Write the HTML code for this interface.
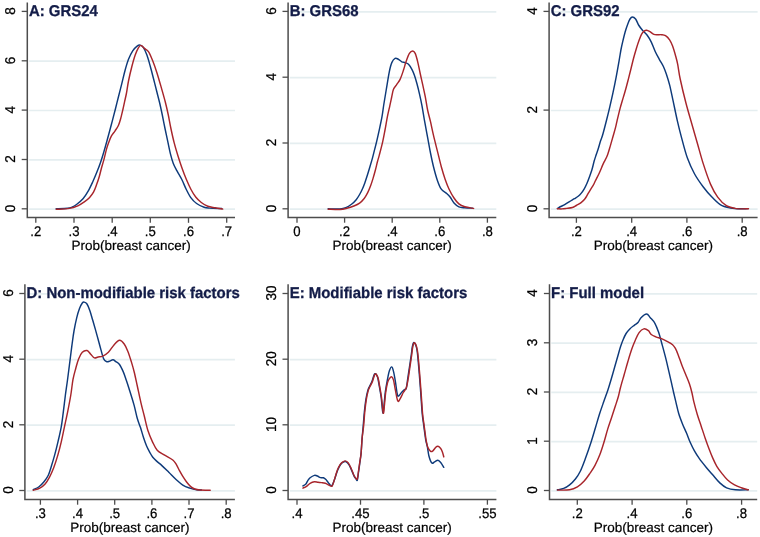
<!DOCTYPE html>
<html><head><meta charset="utf-8"><style>
html,body{margin:0;padding:0;background:#fff;width:760px;height:537px;overflow:hidden}
svg{display:block;will-change:transform}
text{font-family:"Liberation Sans", sans-serif;text-rendering:geometricPrecision}
</style></head><body>
<svg width="760" height="537" viewBox="0 0 760 537">
<rect width="760" height="537" fill="#fff"/>
<line x1="29.1" y1="209.2" x2="235.0" y2="209.2" stroke="#e5eef0" stroke-width="1.7"/>
<line x1="29.1" y1="159.9" x2="235.0" y2="159.9" stroke="#e5eef0" stroke-width="1.7"/>
<line x1="29.1" y1="110.5" x2="235.0" y2="110.5" stroke="#e5eef0" stroke-width="1.7"/>
<line x1="29.1" y1="61.1" x2="235.0" y2="61.1" stroke="#e5eef0" stroke-width="1.7"/>
<text transform="translate(28.9,16.0) scale(0.958,1)" font-size="15.6" font-weight="bold" fill="#131c48" stroke="#131c48" stroke-width="0.3">A: GRS24</text>
<path d="M56.20,208.80 C58.12,208.72 65.07,208.57 67.70,208.30 C70.33,208.03 70.53,207.83 72.00,207.20 C73.47,206.57 74.67,205.92 76.50,204.50 C78.33,203.08 81.03,200.98 83.00,198.70 C84.97,196.42 86.67,193.63 88.30,190.80 C89.93,187.97 91.40,184.73 92.80,181.70 C94.20,178.67 95.40,175.85 96.70,172.60 C98.00,169.35 99.40,165.68 100.60,162.20 C101.80,158.72 102.80,155.40 103.90,151.70 C105.00,148.00 105.93,144.62 107.20,140.00 C108.47,135.38 110.13,129.17 111.50,124.00 C112.87,118.83 114.25,113.50 115.40,109.00 C116.55,104.50 117.33,101.23 118.40,97.00 C119.47,92.77 120.68,88.07 121.80,83.60 C122.92,79.13 123.98,74.25 125.10,70.20 C126.22,66.15 127.23,62.52 128.50,59.30 C129.77,56.08 131.32,53.05 132.70,50.90 C134.08,48.75 135.55,47.37 136.80,46.40 C138.05,45.43 139.08,44.90 140.20,45.10 C141.32,45.30 142.38,45.93 143.50,47.60 C144.62,49.27 145.78,52.03 146.90,55.10 C148.02,58.17 149.08,62.02 150.20,66.00 C151.32,69.98 152.48,74.67 153.60,79.00 C154.72,83.33 155.87,87.92 156.90,92.00 C157.93,96.08 158.90,99.67 159.80,103.50 C160.70,107.33 161.45,110.92 162.30,115.00 C163.15,119.08 164.00,123.65 164.90,128.00 C165.80,132.35 166.77,136.75 167.70,141.10 C168.63,145.45 169.57,150.38 170.50,154.10 C171.43,157.82 172.22,160.60 173.30,163.40 C174.38,166.20 175.60,168.25 177.00,170.90 C178.40,173.55 180.15,176.20 181.70,179.30 C183.25,182.40 184.75,186.40 186.30,189.50 C187.85,192.60 189.28,195.57 191.00,197.90 C192.72,200.23 194.42,201.95 196.60,203.50 C198.78,205.05 201.93,206.43 204.10,207.20 C206.27,207.97 206.65,207.88 209.60,208.10 C212.55,208.32 219.77,208.43 221.80,208.50" fill="none" stroke="#0e3a7a" stroke-width="1.45" stroke-linejoin="round" stroke-linecap="round"/>
<path d="M56.20,209.30 C58.40,209.15 65.80,208.98 69.40,208.40 C73.00,207.82 75.32,206.88 77.80,205.80 C80.28,204.72 82.33,203.30 84.30,201.90 C86.27,200.50 88.07,199.02 89.60,197.40 C91.13,195.78 92.32,194.38 93.50,192.20 C94.68,190.02 95.73,186.92 96.70,184.30 C97.67,181.68 98.53,179.10 99.30,176.50 C100.07,173.90 100.53,171.52 101.30,168.70 C102.07,165.88 103.03,162.87 103.90,159.60 C104.77,156.33 105.70,151.95 106.50,149.10 C107.30,146.25 107.92,144.63 108.70,142.50 C109.48,140.37 110.13,138.25 111.20,136.30 C112.27,134.35 113.88,132.65 115.10,130.80 C116.32,128.95 117.57,127.25 118.50,125.20 C119.43,123.15 119.97,121.12 120.70,118.50 C121.43,115.88 122.25,112.30 122.90,109.50 C123.55,106.70 124.00,104.45 124.60,101.70 C125.20,98.95 125.85,96.45 126.50,93.00 C127.15,89.55 127.62,85.37 128.50,81.00 C129.38,76.63 130.68,71.12 131.80,66.80 C132.92,62.48 134.08,58.30 135.20,55.10 C136.32,51.90 137.53,49.22 138.50,47.60 C139.47,45.98 140.02,45.27 141.00,45.40 C141.98,45.53 143.13,47.33 144.40,48.40 C145.67,49.47 147.20,49.70 148.60,51.80 C150.00,53.90 151.42,57.52 152.80,61.00 C154.18,64.48 155.52,68.38 156.90,72.70 C158.28,77.02 159.70,82.02 161.10,86.90 C162.50,91.78 164.10,97.32 165.30,102.00 C166.50,106.68 167.38,110.67 168.30,115.00 C169.22,119.33 169.82,123.35 170.80,128.00 C171.78,132.65 173.00,138.23 174.20,142.90 C175.40,147.57 176.75,151.95 178.00,156.00 C179.25,160.05 180.32,163.32 181.70,167.20 C183.08,171.08 184.75,175.58 186.30,179.30 C187.85,183.02 189.43,186.55 191.00,189.50 C192.57,192.45 193.98,194.83 195.70,197.00 C197.42,199.17 199.28,200.95 201.30,202.50 C203.32,204.05 205.48,205.42 207.80,206.30 C210.12,207.18 212.72,207.33 215.20,207.80 C217.68,208.27 221.45,208.88 222.70,209.10" fill="none" stroke="#a8252b" stroke-width="1.45" stroke-linejoin="round" stroke-linecap="round"/>
<path d="M27.3,2.6 V217.5 H235.0" fill="none" stroke="#4d4d4d" stroke-width="1.5"/>
<line x1="21.7" y1="208.8" x2="27.3" y2="208.8" stroke="#4d4d4d" stroke-width="1.3"/>
<text transform="translate(15.1,208.4) rotate(-90) scale(0.95,1)" text-anchor="middle" font-size="14.2" fill="#000" stroke="#000" stroke-width="0.25">0</text>
<line x1="21.7" y1="159.5" x2="27.3" y2="159.5" stroke="#4d4d4d" stroke-width="1.3"/>
<text transform="translate(15.1,159.1) rotate(-90) scale(0.95,1)" text-anchor="middle" font-size="14.2" fill="#000" stroke="#000" stroke-width="0.25">2</text>
<line x1="21.7" y1="110.1" x2="27.3" y2="110.1" stroke="#4d4d4d" stroke-width="1.3"/>
<text transform="translate(15.1,109.7) rotate(-90) scale(0.95,1)" text-anchor="middle" font-size="14.2" fill="#000" stroke="#000" stroke-width="0.25">4</text>
<line x1="21.7" y1="60.8" x2="27.3" y2="60.8" stroke="#4d4d4d" stroke-width="1.3"/>
<text transform="translate(15.1,60.4) rotate(-90) scale(0.95,1)" text-anchor="middle" font-size="14.2" fill="#000" stroke="#000" stroke-width="0.25">6</text>
<line x1="21.7" y1="11.4" x2="27.3" y2="11.4" stroke="#4d4d4d" stroke-width="1.3"/>
<text transform="translate(15.1,11.0) rotate(-90) scale(0.95,1)" text-anchor="middle" font-size="14.2" fill="#000" stroke="#000" stroke-width="0.25">8</text>
<line x1="35.8" y1="217.5" x2="35.8" y2="222.8" stroke="#4d4d4d" stroke-width="1.3"/>
<text transform="translate(35.8,236.0) scale(0.94,1)" text-anchor="middle" font-size="14" fill="#000" stroke="#000" stroke-width="0.25">.2</text>
<line x1="74.0" y1="217.5" x2="74.0" y2="222.8" stroke="#4d4d4d" stroke-width="1.3"/>
<text transform="translate(74.0,236.0) scale(0.94,1)" text-anchor="middle" font-size="14" fill="#000" stroke="#000" stroke-width="0.25">.3</text>
<line x1="112.2" y1="217.5" x2="112.2" y2="222.8" stroke="#4d4d4d" stroke-width="1.3"/>
<text transform="translate(112.2,236.0) scale(0.94,1)" text-anchor="middle" font-size="14" fill="#000" stroke="#000" stroke-width="0.25">.4</text>
<line x1="150.3" y1="217.5" x2="150.3" y2="222.8" stroke="#4d4d4d" stroke-width="1.3"/>
<text transform="translate(150.3,236.0) scale(0.94,1)" text-anchor="middle" font-size="14" fill="#000" stroke="#000" stroke-width="0.25">.5</text>
<line x1="188.5" y1="217.5" x2="188.5" y2="222.8" stroke="#4d4d4d" stroke-width="1.3"/>
<text transform="translate(188.5,236.0) scale(0.94,1)" text-anchor="middle" font-size="14" fill="#000" stroke="#000" stroke-width="0.25">.6</text>
<line x1="226.7" y1="217.5" x2="226.7" y2="222.8" stroke="#4d4d4d" stroke-width="1.3"/>
<text transform="translate(226.7,236.0) scale(0.94,1)" text-anchor="middle" font-size="14" fill="#000" stroke="#000" stroke-width="0.25">.7</text>
<text x="131.2" y="249.6" text-anchor="middle" font-size="13.5" fill="#000" stroke="#000" stroke-width="0.2">Prob(breast cancer)</text>
<line x1="289.9" y1="209.2" x2="496.3" y2="209.2" stroke="#e5eef0" stroke-width="1.7"/>
<line x1="289.9" y1="143.4" x2="496.3" y2="143.4" stroke="#e5eef0" stroke-width="1.7"/>
<line x1="289.9" y1="77.6" x2="496.3" y2="77.6" stroke="#e5eef0" stroke-width="1.7"/>
<line x1="289.9" y1="11.8" x2="496.3" y2="11.8" stroke="#e5eef0" stroke-width="1.7"/>
<text transform="translate(289.7,16.0) scale(0.958,1)" font-size="15.6" font-weight="bold" fill="#131c48" stroke="#131c48" stroke-width="0.3">B: GRS68</text>
<path d="M328.20,208.80 C330.17,208.82 337.07,209.08 340.00,208.90 C342.93,208.72 343.88,208.47 345.80,207.70 C347.72,206.93 349.77,205.63 351.50,204.30 C353.23,202.97 354.85,201.33 356.20,199.70 C357.55,198.07 358.55,196.33 359.60,194.50 C360.65,192.67 361.63,190.63 362.50,188.70 C363.37,186.77 364.03,185.02 364.80,182.90 C365.57,180.78 366.33,178.40 367.10,176.00 C367.87,173.60 368.62,171.10 369.40,168.50 C370.18,165.90 371.17,162.63 371.80,160.40 C372.43,158.17 372.42,158.15 373.20,155.10 C373.98,152.05 375.45,146.48 376.50,142.10 C377.55,137.72 378.58,133.03 379.50,128.80 C380.42,124.57 381.28,120.75 382.00,116.70 C382.72,112.65 383.10,108.95 383.80,104.50 C384.50,100.05 385.28,95.45 386.20,90.00 C387.12,84.55 388.37,76.37 389.30,71.80 C390.23,67.23 390.83,64.83 391.80,62.60 C392.77,60.37 393.98,58.95 395.10,58.40 C396.22,57.85 397.38,58.73 398.50,59.30 C399.62,59.87 400.68,61.25 401.80,61.80 C402.92,62.35 404.08,62.18 405.20,62.60 C406.32,63.02 407.38,63.18 408.50,64.30 C409.62,65.42 410.92,67.48 411.90,69.30 C412.88,71.12 413.57,72.83 414.40,75.20 C415.23,77.57 416.07,80.43 416.90,83.50 C417.73,86.57 418.57,89.97 419.40,93.60 C420.23,97.23 421.02,100.62 421.90,105.30 C422.78,109.98 423.75,116.35 424.70,121.70 C425.65,127.05 426.63,132.18 427.60,137.40 C428.57,142.62 429.52,148.12 430.50,153.00 C431.48,157.88 432.35,162.13 433.50,166.70 C434.65,171.27 436.10,176.65 437.40,180.40 C438.70,184.15 439.83,187.08 441.30,189.20 C442.77,191.32 444.73,191.80 446.20,193.10 C447.67,194.40 448.80,195.37 450.10,197.00 C451.40,198.63 452.53,201.27 454.00,202.90 C455.47,204.53 457.10,205.98 458.90,206.80 C460.70,207.62 462.52,207.57 464.80,207.80 C467.08,208.03 471.30,208.13 472.60,208.20" fill="none" stroke="#0e3a7a" stroke-width="1.45" stroke-linejoin="round" stroke-linecap="round"/>
<path d="M328.20,209.20 C330.17,209.25 336.88,209.65 340.00,209.50 C343.12,209.35 344.58,208.88 346.90,208.30 C349.22,207.72 351.78,206.87 353.90,206.00 C356.02,205.13 357.88,204.35 359.60,203.10 C361.32,201.85 362.85,200.23 364.20,198.50 C365.55,196.77 366.63,194.82 367.70,192.70 C368.77,190.58 369.73,188.10 370.60,185.80 C371.47,183.50 372.13,181.40 372.90,178.90 C373.67,176.40 374.43,173.70 375.20,170.80 C375.97,167.90 376.82,164.12 377.50,161.50 C378.18,158.88 378.45,158.33 379.30,155.10 C380.15,151.87 381.65,146.28 382.60,142.10 C383.55,137.92 384.20,134.23 385.00,130.00 C385.80,125.77 386.60,120.73 387.40,116.70 C388.20,112.67 389.10,109.00 389.80,105.80 C390.50,102.60 391.00,100.22 391.60,97.50 C392.20,94.78 392.53,91.68 393.40,89.50 C394.27,87.32 395.68,86.08 396.80,84.40 C397.92,82.72 398.98,81.78 400.10,79.40 C401.22,77.02 402.52,73.03 403.50,70.10 C404.48,67.17 405.02,64.58 406.00,61.80 C406.98,59.02 408.28,55.22 409.40,53.40 C410.52,51.58 411.73,50.90 412.70,50.90 C413.67,50.90 414.37,51.58 415.20,53.40 C416.03,55.22 416.87,58.45 417.70,61.80 C418.53,65.15 419.35,69.60 420.20,73.50 C421.05,77.40 421.95,81.30 422.80,85.20 C423.65,89.10 424.50,92.77 425.30,96.90 C426.10,101.03 426.73,105.87 427.60,110.00 C428.47,114.13 429.52,117.47 430.50,121.70 C431.48,125.93 432.35,130.50 433.50,135.40 C434.65,140.30 436.10,145.88 437.40,151.10 C438.70,156.32 440.00,161.98 441.30,166.70 C442.60,171.42 443.90,175.65 445.20,179.40 C446.50,183.15 447.63,186.10 449.10,189.20 C450.57,192.30 452.37,195.55 454.00,198.00 C455.63,200.45 457.10,202.43 458.90,203.90 C460.70,205.37 462.35,206.05 464.80,206.80 C467.25,207.55 472.13,208.13 473.60,208.40" fill="none" stroke="#a8252b" stroke-width="1.45" stroke-linejoin="round" stroke-linecap="round"/>
<path d="M288.1,2.6 V217.4 H496.3" fill="none" stroke="#4d4d4d" stroke-width="1.5"/>
<line x1="282.5" y1="208.8" x2="288.1" y2="208.8" stroke="#4d4d4d" stroke-width="1.3"/>
<text transform="translate(275.9,208.4) rotate(-90) scale(0.95,1)" text-anchor="middle" font-size="14.2" fill="#000" stroke="#000" stroke-width="0.25">0</text>
<line x1="282.5" y1="143.0" x2="288.1" y2="143.0" stroke="#4d4d4d" stroke-width="1.3"/>
<text transform="translate(275.9,142.6) rotate(-90) scale(0.95,1)" text-anchor="middle" font-size="14.2" fill="#000" stroke="#000" stroke-width="0.25">2</text>
<line x1="282.5" y1="77.2" x2="288.1" y2="77.2" stroke="#4d4d4d" stroke-width="1.3"/>
<text transform="translate(275.9,76.8) rotate(-90) scale(0.95,1)" text-anchor="middle" font-size="14.2" fill="#000" stroke="#000" stroke-width="0.25">4</text>
<line x1="282.5" y1="11.4" x2="288.1" y2="11.4" stroke="#4d4d4d" stroke-width="1.3"/>
<text transform="translate(275.9,11.0) rotate(-90) scale(0.95,1)" text-anchor="middle" font-size="14.2" fill="#000" stroke="#000" stroke-width="0.25">6</text>
<line x1="297.0" y1="217.4" x2="297.0" y2="222.7" stroke="#4d4d4d" stroke-width="1.3"/>
<text transform="translate(297.0,235.9) scale(0.94,1)" text-anchor="middle" font-size="14" fill="#000" stroke="#000" stroke-width="0.25">0</text>
<line x1="344.6" y1="217.4" x2="344.6" y2="222.7" stroke="#4d4d4d" stroke-width="1.3"/>
<text transform="translate(344.6,235.9) scale(0.94,1)" text-anchor="middle" font-size="14" fill="#000" stroke="#000" stroke-width="0.25">.2</text>
<line x1="392.2" y1="217.4" x2="392.2" y2="222.7" stroke="#4d4d4d" stroke-width="1.3"/>
<text transform="translate(392.2,235.9) scale(0.94,1)" text-anchor="middle" font-size="14" fill="#000" stroke="#000" stroke-width="0.25">.4</text>
<line x1="439.8" y1="217.4" x2="439.8" y2="222.7" stroke="#4d4d4d" stroke-width="1.3"/>
<text transform="translate(439.8,235.9) scale(0.94,1)" text-anchor="middle" font-size="14" fill="#000" stroke="#000" stroke-width="0.25">.6</text>
<line x1="487.4" y1="217.4" x2="487.4" y2="222.7" stroke="#4d4d4d" stroke-width="1.3"/>
<text transform="translate(487.4,235.9) scale(0.94,1)" text-anchor="middle" font-size="14" fill="#000" stroke="#000" stroke-width="0.25">.8</text>
<text x="392.2" y="249.5" text-anchor="middle" font-size="13.5" fill="#000" stroke="#000" stroke-width="0.2">Prob(breast cancer)</text>
<line x1="550.9" y1="209.2" x2="757.6" y2="209.2" stroke="#e5eef0" stroke-width="1.7"/>
<line x1="550.9" y1="110.5" x2="757.6" y2="110.5" stroke="#e5eef0" stroke-width="1.7"/>
<line x1="550.9" y1="11.8" x2="757.6" y2="11.8" stroke="#e5eef0" stroke-width="1.7"/>
<text transform="translate(550.7,16.0) scale(0.958,1)" font-size="15.6" font-weight="bold" fill="#131c48" stroke="#131c48" stroke-width="0.3">C: GRS92</text>
<path d="M557.40,208.50 C557.97,208.17 559.58,207.15 560.80,206.50 C562.02,205.85 563.25,205.42 564.70,204.60 C566.15,203.78 567.88,202.58 569.50,201.60 C571.12,200.62 572.95,199.58 574.40,198.70 C575.85,197.82 577.08,197.18 578.20,196.30 C579.32,195.42 580.12,194.60 581.10,193.40 C582.08,192.20 583.12,190.80 584.10,189.10 C585.08,187.40 586.08,185.30 587.00,183.20 C587.92,181.10 588.77,178.78 589.60,176.50 C590.43,174.22 591.25,172.03 592.00,169.50 C592.75,166.97 593.43,163.67 594.10,161.30 C594.77,158.93 595.35,157.27 596.00,155.30 C596.65,153.33 597.25,151.88 598.00,149.50 C598.75,147.12 599.72,143.45 600.50,141.00 C601.28,138.55 601.67,138.38 602.70,134.80 C603.73,131.22 605.52,124.17 606.70,119.50 C607.88,114.83 608.75,111.28 609.80,106.80 C610.85,102.32 611.93,97.60 613.00,92.60 C614.07,87.60 615.15,82.32 616.20,76.80 C617.25,71.28 618.52,63.97 619.30,59.50 C620.08,55.03 620.35,52.90 620.90,50.00 C621.45,47.10 621.88,45.15 622.60,42.10 C623.32,39.05 624.33,34.73 625.20,31.70 C626.07,28.67 627.00,26.02 627.80,23.90 C628.60,21.78 629.25,20.17 630.00,19.00 C630.75,17.83 631.37,16.90 632.30,16.90 C633.23,16.90 634.50,17.57 635.60,19.00 C636.70,20.43 637.70,23.57 638.90,25.50 C640.10,27.43 641.42,28.97 642.80,30.60 C644.18,32.23 645.78,33.38 647.20,35.30 C648.62,37.22 649.97,39.40 651.30,42.10 C652.63,44.80 653.87,48.63 655.20,51.50 C656.53,54.37 657.93,56.80 659.30,59.30 C660.67,61.80 662.20,63.95 663.40,66.50 C664.60,69.05 665.47,71.53 666.50,74.60 C667.53,77.67 668.52,80.60 669.60,84.90 C670.68,89.20 671.72,94.45 673.00,100.40 C674.28,106.35 675.87,114.35 677.30,120.60 C678.73,126.85 679.92,131.65 681.60,137.90 C683.28,144.15 685.23,152.08 687.40,158.10 C689.57,164.12 691.95,169.18 694.60,174.00 C697.25,178.82 700.42,183.15 703.30,187.00 C706.18,190.85 708.78,193.98 711.90,197.10 C715.02,200.22 718.15,203.78 722.00,205.70 C725.85,207.62 730.67,208.12 735.00,208.60 C739.33,209.08 745.83,208.60 748.00,208.60" fill="none" stroke="#0e3a7a" stroke-width="1.45" stroke-linejoin="round" stroke-linecap="round"/>
<path d="M557.40,208.70 C558.13,208.73 560.27,208.95 561.80,208.90 C563.33,208.85 564.83,208.63 566.60,208.40 C568.37,208.17 570.78,207.98 572.40,207.50 C574.02,207.02 574.85,206.32 576.30,205.50 C577.75,204.68 579.65,203.73 581.10,202.60 C582.55,201.47 583.87,200.15 585.00,198.70 C586.13,197.25 586.93,195.50 587.90,193.90 C588.87,192.30 589.90,190.55 590.80,189.10 C591.70,187.65 592.53,186.58 593.30,185.20 C594.07,183.82 594.40,182.83 595.40,180.80 C596.40,178.77 598.00,175.82 599.30,173.00 C600.60,170.18 601.90,166.72 603.20,163.90 C604.50,161.08 605.90,159.15 607.10,156.10 C608.30,153.05 609.42,148.87 610.40,145.60 C611.38,142.33 612.15,139.50 613.00,136.50 C613.85,133.50 614.83,130.17 615.50,127.60 C616.17,125.03 616.23,124.30 617.00,121.10 C617.77,117.90 619.05,112.35 620.10,108.40 C621.15,104.45 622.33,100.72 623.30,97.40 C624.27,94.08 625.03,91.63 625.90,88.50 C626.77,85.37 627.63,81.98 628.50,78.60 C629.37,75.22 630.23,71.67 631.10,68.20 C631.97,64.73 632.83,61.05 633.70,57.80 C634.57,54.55 635.43,51.53 636.30,48.70 C637.17,45.87 638.03,43.20 638.90,40.80 C639.77,38.40 640.63,35.92 641.50,34.30 C642.37,32.68 643.23,31.78 644.10,31.10 C644.97,30.42 645.72,30.10 646.70,30.20 C647.68,30.30 648.80,31.02 650.00,31.70 C651.20,32.38 652.65,33.80 653.90,34.30 C655.15,34.80 656.25,34.63 657.50,34.70 C658.75,34.77 660.07,34.53 661.40,34.70 C662.73,34.87 664.13,34.85 665.50,35.70 C666.87,36.55 668.42,38.08 669.60,39.80 C670.78,41.52 671.58,43.27 672.60,46.00 C673.62,48.73 674.85,53.13 675.70,56.20 C676.55,59.27 676.95,60.60 677.70,64.40 C678.45,68.20 678.82,72.52 680.20,79.00 C681.58,85.48 684.08,95.88 686.00,103.30 C687.92,110.72 689.78,116.77 691.70,123.50 C693.62,130.23 695.57,136.97 697.50,143.70 C699.43,150.43 701.13,157.17 703.30,163.90 C705.47,170.63 708.10,178.57 710.50,184.10 C712.90,189.63 715.05,193.50 717.70,197.10 C720.35,200.70 723.27,203.78 726.40,205.70 C729.53,207.62 732.82,208.08 736.50,208.60 C740.18,209.12 746.50,208.77 748.50,208.80" fill="none" stroke="#a8252b" stroke-width="1.45" stroke-linejoin="round" stroke-linecap="round"/>
<path d="M549.1,2.6 V217.5 H757.6" fill="none" stroke="#4d4d4d" stroke-width="1.5"/>
<line x1="543.5" y1="208.8" x2="549.1" y2="208.8" stroke="#4d4d4d" stroke-width="1.3"/>
<text transform="translate(536.9,208.4) rotate(-90) scale(0.95,1)" text-anchor="middle" font-size="14.2" fill="#000" stroke="#000" stroke-width="0.25">0</text>
<line x1="543.5" y1="110.1" x2="549.1" y2="110.1" stroke="#4d4d4d" stroke-width="1.3"/>
<text transform="translate(536.9,109.7) rotate(-90) scale(0.95,1)" text-anchor="middle" font-size="14.2" fill="#000" stroke="#000" stroke-width="0.25">2</text>
<line x1="543.5" y1="11.4" x2="549.1" y2="11.4" stroke="#4d4d4d" stroke-width="1.3"/>
<text transform="translate(536.9,11.0) rotate(-90) scale(0.95,1)" text-anchor="middle" font-size="14.2" fill="#000" stroke="#000" stroke-width="0.25">4</text>
<line x1="576.4" y1="217.5" x2="576.4" y2="222.8" stroke="#4d4d4d" stroke-width="1.3"/>
<text transform="translate(576.4,236.0) scale(0.94,1)" text-anchor="middle" font-size="14" fill="#000" stroke="#000" stroke-width="0.25">.2</text>
<line x1="631.7" y1="217.5" x2="631.7" y2="222.8" stroke="#4d4d4d" stroke-width="1.3"/>
<text transform="translate(631.7,236.0) scale(0.94,1)" text-anchor="middle" font-size="14" fill="#000" stroke="#000" stroke-width="0.25">.4</text>
<line x1="686.9" y1="217.5" x2="686.9" y2="222.8" stroke="#4d4d4d" stroke-width="1.3"/>
<text transform="translate(686.9,236.0) scale(0.94,1)" text-anchor="middle" font-size="14" fill="#000" stroke="#000" stroke-width="0.25">.6</text>
<line x1="742.2" y1="217.5" x2="742.2" y2="222.8" stroke="#4d4d4d" stroke-width="1.3"/>
<text transform="translate(742.2,236.0) scale(0.94,1)" text-anchor="middle" font-size="14" fill="#000" stroke="#000" stroke-width="0.25">.8</text>
<text x="653.4" y="249.6" text-anchor="middle" font-size="13.5" fill="#000" stroke="#000" stroke-width="0.2">Prob(breast cancer)</text>
<line x1="26.7" y1="490.9" x2="234.9" y2="490.9" stroke="#e5eef0" stroke-width="1.7"/>
<line x1="26.7" y1="425.2" x2="234.9" y2="425.2" stroke="#e5eef0" stroke-width="1.7"/>
<line x1="26.7" y1="359.6" x2="234.9" y2="359.6" stroke="#e5eef0" stroke-width="1.7"/>
<line x1="26.7" y1="293.9" x2="234.9" y2="293.9" stroke="#e5eef0" stroke-width="1.7"/>
<text transform="translate(26.5,297.6) scale(0.958,1)" font-size="15.6" font-weight="bold" fill="#131c48" stroke="#131c48" stroke-width="0.3">D: Non-modifiable risk factors</text>
<path d="M33.30,489.60 C34.20,489.17 36.92,488.32 38.70,487.00 C40.48,485.68 42.40,483.65 44.00,481.70 C45.60,479.75 47.05,477.97 48.30,475.30 C49.55,472.63 50.43,469.10 51.50,465.70 C52.57,462.30 53.63,458.83 54.70,454.90 C55.77,450.97 56.82,446.73 57.90,442.10 C58.98,437.47 60.30,432.10 61.20,427.10 C62.10,422.10 62.60,417.45 63.30,412.10 C64.00,406.75 64.70,400.35 65.40,395.00 C66.10,389.65 66.70,386.02 67.50,380.00 C68.30,373.98 69.43,364.90 70.20,358.90 C70.97,352.90 71.47,348.65 72.10,344.00 C72.73,339.35 73.23,335.35 74.00,331.00 C74.77,326.65 75.78,321.63 76.70,317.90 C77.62,314.17 78.57,311.08 79.50,308.60 C80.43,306.12 81.52,304.08 82.30,303.00 C83.08,301.92 83.42,301.93 84.20,302.10 C84.98,302.27 86.07,302.60 87.00,304.00 C87.93,305.40 88.87,307.87 89.80,310.50 C90.73,313.13 91.68,316.70 92.60,319.80 C93.52,322.90 94.38,325.85 95.30,329.10 C96.22,332.35 97.17,335.88 98.10,339.30 C99.03,342.72 99.97,346.33 100.90,349.60 C101.83,352.87 102.77,356.90 103.70,358.90 C104.63,360.90 105.57,361.20 106.50,361.60 C107.43,362.00 108.22,361.60 109.30,361.30 C110.38,361.00 111.92,359.75 113.00,359.80 C114.08,359.85 114.72,360.82 115.80,361.60 C116.88,362.38 118.25,362.78 119.50,364.50 C120.75,366.22 122.22,369.42 123.30,371.90 C124.38,374.38 125.05,376.63 126.00,379.40 C126.95,382.17 127.67,384.25 129.00,388.50 C130.33,392.75 132.60,399.85 134.00,404.90 C135.40,409.95 136.32,415.02 137.40,418.80 C138.48,422.58 139.48,424.48 140.50,427.60 C141.52,430.72 142.48,434.43 143.50,437.50 C144.52,440.57 145.55,443.53 146.60,446.00 C147.65,448.47 148.77,450.42 149.80,452.30 C150.83,454.18 151.62,455.78 152.80,457.30 C153.98,458.82 155.38,460.02 156.90,461.40 C158.42,462.78 159.92,463.78 161.90,465.60 C163.88,467.42 166.48,470.02 168.80,472.30 C171.12,474.58 173.47,477.17 175.80,479.30 C178.13,481.43 180.47,483.63 182.80,485.10 C185.13,486.57 187.48,487.32 189.80,488.10 C192.12,488.88 194.77,489.48 196.70,489.80 C198.63,490.12 200.62,489.97 201.40,490.00" fill="none" stroke="#0e3a7a" stroke-width="1.45" stroke-linejoin="round" stroke-linecap="round"/>
<path d="M33.30,490.30 C34.38,489.93 37.83,489.17 39.80,488.10 C41.77,487.03 43.50,485.68 45.10,483.90 C46.70,482.12 47.97,480.08 49.40,477.40 C50.83,474.72 52.28,471.55 53.70,467.80 C55.12,464.05 56.65,459.18 57.90,454.90 C59.15,450.62 60.12,446.73 61.20,442.10 C62.28,437.47 63.33,432.10 64.40,427.10 C65.47,422.10 66.53,417.45 67.60,412.10 C68.67,406.75 69.90,400.45 70.80,395.00 C71.70,389.55 72.17,383.87 73.00,379.40 C73.83,374.93 74.87,371.62 75.80,368.20 C76.73,364.78 77.52,361.55 78.60,358.90 C79.68,356.25 80.90,353.70 82.30,352.30 C83.70,350.90 85.60,350.18 87.00,350.50 C88.40,350.82 89.47,352.97 90.70,354.20 C91.93,355.43 93.17,357.43 94.40,357.90 C95.63,358.37 96.70,357.30 98.10,357.00 C99.50,356.70 101.08,356.88 102.80,356.10 C104.52,355.32 106.53,354.17 108.40,352.30 C110.27,350.43 112.15,346.90 114.00,344.90 C115.85,342.90 117.80,340.45 119.50,340.30 C121.20,340.15 122.80,342.15 124.20,344.00 C125.60,345.85 126.67,348.30 127.90,351.40 C129.13,354.50 130.55,359.17 131.60,362.60 C132.65,366.03 133.25,368.10 134.20,372.00 C135.15,375.90 136.18,380.90 137.30,386.00 C138.42,391.10 139.72,397.52 140.90,402.60 C142.08,407.68 143.23,411.85 144.40,416.50 C145.57,421.15 146.53,426.23 147.90,430.50 C149.27,434.77 151.05,438.82 152.60,442.10 C154.15,445.38 155.27,448.07 157.20,450.20 C159.13,452.33 161.60,453.27 164.20,454.90 C166.80,456.53 170.77,458.38 172.80,460.00 C174.83,461.62 175.28,462.82 176.40,464.60 C177.52,466.38 178.48,468.82 179.50,470.70 C180.52,472.58 181.32,474.02 182.50,475.90 C183.68,477.78 185.23,480.22 186.60,482.00 C187.97,483.78 189.33,485.43 190.70,486.60 C192.07,487.77 193.25,488.43 194.80,489.00 C196.35,489.57 197.43,489.80 200.00,490.00 C202.57,490.20 208.50,490.17 210.20,490.20" fill="none" stroke="#a8252b" stroke-width="1.45" stroke-linejoin="round" stroke-linecap="round"/>
<path d="M24.9,284.2 V499.4 H234.9" fill="none" stroke="#4d4d4d" stroke-width="1.5"/>
<line x1="19.3" y1="490.5" x2="24.9" y2="490.5" stroke="#4d4d4d" stroke-width="1.3"/>
<text transform="translate(12.7,490.1) rotate(-90) scale(0.95,1)" text-anchor="middle" font-size="14.2" fill="#000" stroke="#000" stroke-width="0.25">0</text>
<line x1="19.3" y1="424.8" x2="24.9" y2="424.8" stroke="#4d4d4d" stroke-width="1.3"/>
<text transform="translate(12.7,424.4) rotate(-90) scale(0.95,1)" text-anchor="middle" font-size="14.2" fill="#000" stroke="#000" stroke-width="0.25">2</text>
<line x1="19.3" y1="359.2" x2="24.9" y2="359.2" stroke="#4d4d4d" stroke-width="1.3"/>
<text transform="translate(12.7,358.8) rotate(-90) scale(0.95,1)" text-anchor="middle" font-size="14.2" fill="#000" stroke="#000" stroke-width="0.25">4</text>
<line x1="19.3" y1="293.5" x2="24.9" y2="293.5" stroke="#4d4d4d" stroke-width="1.3"/>
<text transform="translate(12.7,293.1) rotate(-90) scale(0.95,1)" text-anchor="middle" font-size="14.2" fill="#000" stroke="#000" stroke-width="0.25">6</text>
<line x1="40.4" y1="499.4" x2="40.4" y2="504.7" stroke="#4d4d4d" stroke-width="1.3"/>
<text transform="translate(40.4,517.9) scale(0.94,1)" text-anchor="middle" font-size="14" fill="#000" stroke="#000" stroke-width="0.25">.3</text>
<line x1="77.6" y1="499.4" x2="77.6" y2="504.7" stroke="#4d4d4d" stroke-width="1.3"/>
<text transform="translate(77.6,517.9) scale(0.94,1)" text-anchor="middle" font-size="14" fill="#000" stroke="#000" stroke-width="0.25">.4</text>
<line x1="114.7" y1="499.4" x2="114.7" y2="504.7" stroke="#4d4d4d" stroke-width="1.3"/>
<text transform="translate(114.7,517.9) scale(0.94,1)" text-anchor="middle" font-size="14" fill="#000" stroke="#000" stroke-width="0.25">.5</text>
<line x1="151.9" y1="499.4" x2="151.9" y2="504.7" stroke="#4d4d4d" stroke-width="1.3"/>
<text transform="translate(151.9,517.9) scale(0.94,1)" text-anchor="middle" font-size="14" fill="#000" stroke="#000" stroke-width="0.25">.6</text>
<line x1="189.0" y1="499.4" x2="189.0" y2="504.7" stroke="#4d4d4d" stroke-width="1.3"/>
<text transform="translate(189.0,517.9) scale(0.94,1)" text-anchor="middle" font-size="14" fill="#000" stroke="#000" stroke-width="0.25">.7</text>
<line x1="226.2" y1="499.4" x2="226.2" y2="504.7" stroke="#4d4d4d" stroke-width="1.3"/>
<text transform="translate(226.2,517.9) scale(0.94,1)" text-anchor="middle" font-size="14" fill="#000" stroke="#000" stroke-width="0.25">.8</text>
<text x="129.9" y="531.5" text-anchor="middle" font-size="13.5" fill="#000" stroke="#000" stroke-width="0.2">Prob(breast cancer)</text>
<line x1="289.9" y1="490.9" x2="496.4" y2="490.9" stroke="#e5eef0" stroke-width="1.7"/>
<line x1="289.9" y1="425.2" x2="496.4" y2="425.2" stroke="#e5eef0" stroke-width="1.7"/>
<line x1="289.9" y1="359.6" x2="496.4" y2="359.6" stroke="#e5eef0" stroke-width="1.7"/>
<text transform="translate(289.7,297.6) scale(0.958,1)" font-size="15.6" font-weight="bold" fill="#131c48" stroke="#131c48" stroke-width="0.3">E: Modifiable risk factors</text>
<path d="M302.90,485.90 C303.40,485.57 305.10,484.75 305.90,483.90 C306.70,483.05 307.00,481.82 307.70,480.80 C308.40,479.78 308.98,478.70 310.10,477.80 C311.22,476.90 313.18,475.70 314.40,475.40 C315.62,475.10 316.40,475.63 317.40,476.00 C318.40,476.37 319.40,477.30 320.40,477.60 C321.40,477.90 322.48,477.47 323.40,477.80 C324.32,478.13 325.08,478.80 325.90,479.60 C326.72,480.40 327.40,481.55 328.30,482.60 C329.20,483.65 330.50,485.78 331.30,485.90 C332.10,486.02 332.50,484.55 333.10,483.30 C333.70,482.05 334.28,480.22 334.90,478.40 C335.52,476.58 336.08,474.32 336.80,472.40 C337.52,470.48 338.40,468.42 339.20,466.90 C340.00,465.38 340.80,464.17 341.60,463.30 C342.40,462.43 343.30,461.97 344.00,461.70 C344.70,461.43 345.08,461.33 345.80,461.70 C346.52,462.07 347.48,462.83 348.30,463.90 C349.12,464.97 350.00,466.68 350.70,468.10 C351.40,469.52 351.90,470.98 352.50,472.40 C353.10,473.82 353.70,475.50 354.30,476.60 C354.90,477.70 355.60,478.40 356.10,479.00 C356.60,479.60 356.90,481.30 357.30,480.20 C357.70,479.10 358.10,475.12 358.50,472.40 C358.90,469.68 359.28,466.93 359.70,463.90 C360.12,460.87 360.68,457.23 361.00,454.20 C361.32,451.17 361.40,448.52 361.60,445.70 C361.80,442.88 361.93,440.60 362.20,437.30 C362.47,434.00 362.83,430.20 363.20,425.90 C363.57,421.60 363.95,415.93 364.40,411.50 C364.85,407.07 365.32,402.87 365.90,399.30 C366.48,395.73 367.28,392.28 367.90,390.10 C368.52,387.92 368.92,387.67 369.60,386.20 C370.28,384.73 371.15,383.37 372.00,381.30 C372.85,379.23 373.78,374.50 374.70,373.80 C375.62,373.10 376.73,375.03 377.50,377.10 C378.27,379.17 378.68,382.77 379.30,386.20 C379.92,389.63 380.60,393.23 381.20,397.70 C381.80,402.17 382.40,412.10 382.90,413.00 C383.40,413.90 383.80,406.57 384.20,403.10 C384.60,399.63 384.75,396.18 385.30,392.20 C385.85,388.22 386.82,382.78 387.50,379.20 C388.18,375.62 388.68,372.75 389.40,370.70 C390.12,368.65 391.10,366.70 391.80,366.90 C392.50,367.10 393.00,369.45 393.60,371.90 C394.20,374.35 394.80,377.97 395.40,381.60 C396.00,385.23 396.70,391.28 397.20,393.70 C397.70,396.12 397.68,396.30 398.40,396.10 C399.12,395.90 400.48,393.60 401.50,392.50 C402.52,391.40 403.70,390.20 404.50,389.50 C405.30,388.80 405.77,390.07 406.30,388.30 C406.83,386.53 407.17,382.48 407.70,378.90 C408.23,375.32 408.90,370.83 409.50,366.80 C410.10,362.77 410.82,358.08 411.30,354.70 C411.78,351.32 411.92,348.53 412.40,346.50 C412.88,344.47 413.43,341.88 414.20,342.50 C414.97,343.12 416.18,345.35 417.00,350.20 C417.82,355.05 418.47,364.32 419.10,371.60 C419.73,378.88 420.28,386.92 420.80,393.90 C421.32,400.88 421.75,408.55 422.20,413.50 C422.65,418.45 423.08,420.42 423.50,423.60 C423.92,426.78 424.32,429.80 424.70,432.60 C425.08,435.40 425.37,438.12 425.80,440.40 C426.23,442.68 426.77,443.65 427.30,446.30 C427.83,448.95 428.25,453.52 429.00,456.30 C429.75,459.08 430.87,462.07 431.80,463.00 C432.73,463.93 433.58,462.35 434.60,461.90 C435.62,461.45 436.88,460.20 437.90,460.30 C438.92,460.40 439.72,461.33 440.70,462.50 C441.68,463.67 443.28,466.50 443.80,467.30" fill="none" stroke="#0e3a7a" stroke-width="1.45" stroke-linejoin="round" stroke-linecap="round"/>
<path d="M302.90,488.10 C303.50,487.80 305.30,487.10 306.50,486.30 C307.70,485.50 308.78,484.05 310.10,483.30 C311.42,482.55 313.08,481.97 314.40,481.80 C315.72,481.63 316.80,482.17 318.00,482.30 C319.20,482.43 320.38,482.43 321.60,482.60 C322.82,482.77 324.08,482.88 325.30,483.30 C326.52,483.72 327.80,484.60 328.90,485.10 C330.00,485.60 331.10,486.82 331.90,486.30 C332.70,485.78 333.10,483.72 333.70,482.00 C334.30,480.28 334.88,478.02 335.50,476.00 C336.12,473.98 336.68,471.72 337.40,469.90 C338.12,468.08 339.00,466.35 339.80,465.10 C340.60,463.85 341.30,463.10 342.20,462.40 C343.10,461.70 344.18,460.82 345.20,460.90 C346.22,460.98 347.28,461.60 348.30,462.90 C349.32,464.20 350.40,466.72 351.30,468.70 C352.20,470.68 353.00,473.28 353.70,474.80 C354.40,476.32 354.90,477.10 355.50,477.80 C356.10,478.50 356.80,480.10 357.30,479.00 C357.80,477.90 358.10,473.92 358.50,471.20 C358.90,468.48 359.28,465.53 359.70,462.70 C360.12,459.87 360.68,457.03 361.00,454.20 C361.32,451.37 361.40,448.52 361.60,445.70 C361.80,442.88 361.87,440.55 362.20,437.30 C362.53,434.05 363.17,430.45 363.60,426.20 C364.03,421.95 364.35,416.23 364.80,411.80 C365.25,407.37 365.72,403.17 366.30,399.60 C366.88,396.03 367.68,392.58 368.30,390.40 C368.92,388.22 369.32,387.97 370.00,386.50 C370.68,385.03 371.55,383.67 372.40,381.60 C373.25,379.53 374.18,374.80 375.10,374.10 C376.02,373.40 377.13,375.33 377.90,377.40 C378.67,379.47 379.08,383.07 379.70,386.50 C380.32,389.93 381.00,393.53 381.60,398.00 C382.20,402.47 382.80,412.40 383.30,413.30 C383.80,414.20 384.20,406.87 384.60,403.40 C385.00,399.93 385.22,395.93 385.70,392.50 C386.18,389.07 386.88,385.12 387.50,382.80 C388.12,380.48 388.68,379.60 389.40,378.60 C390.12,377.60 391.10,376.50 391.80,376.80 C392.50,377.10 393.00,378.18 393.60,380.40 C394.20,382.62 394.70,386.67 395.40,390.10 C396.10,393.53 397.00,399.58 397.80,401.00 C398.60,402.42 399.28,400.02 400.20,398.60 C401.12,397.18 402.28,394.32 403.30,392.50 C404.32,390.68 405.50,389.92 406.30,387.70 C407.10,385.48 407.50,382.63 408.10,379.20 C408.70,375.77 409.30,371.13 409.90,367.10 C410.50,363.07 411.22,358.38 411.70,355.00 C412.18,351.62 412.32,348.83 412.80,346.80 C413.28,344.77 413.83,342.18 414.60,342.80 C415.37,343.42 416.58,345.65 417.40,350.50 C418.22,355.35 418.87,364.62 419.50,371.90 C420.13,379.18 420.68,387.22 421.20,394.20 C421.72,401.18 422.15,408.85 422.60,413.80 C423.05,418.75 423.48,420.72 423.90,423.90 C424.32,427.08 424.72,430.10 425.10,432.90 C425.48,435.70 425.75,438.28 426.20,440.70 C426.65,443.12 427.07,445.63 427.80,447.40 C428.53,449.17 429.75,450.73 430.60,451.30 C431.45,451.87 432.05,451.45 432.90,450.80 C433.75,450.15 434.87,448.15 435.70,447.40 C436.53,446.65 437.07,446.12 437.90,446.30 C438.73,446.48 439.95,447.57 440.70,448.50 C441.45,449.43 441.88,450.50 442.40,451.90 C442.92,453.30 443.57,456.07 443.80,456.90" fill="none" stroke="#a8252b" stroke-width="1.45" stroke-linejoin="round" stroke-linecap="round"/>
<path d="M288.1,284.2 V499.4 H496.4" fill="none" stroke="#4d4d4d" stroke-width="1.5"/>
<line x1="282.5" y1="490.5" x2="288.1" y2="490.5" stroke="#4d4d4d" stroke-width="1.3"/>
<text transform="translate(275.9,490.1) rotate(-90) scale(0.95,1)" text-anchor="middle" font-size="14.2" fill="#000" stroke="#000" stroke-width="0.25">0</text>
<line x1="282.5" y1="424.8" x2="288.1" y2="424.8" stroke="#4d4d4d" stroke-width="1.3"/>
<text transform="translate(275.9,424.4) rotate(-90) scale(0.95,1)" text-anchor="middle" font-size="14.2" fill="#000" stroke="#000" stroke-width="0.25">10</text>
<line x1="282.5" y1="359.2" x2="288.1" y2="359.2" stroke="#4d4d4d" stroke-width="1.3"/>
<text transform="translate(275.9,358.8) rotate(-90) scale(0.95,1)" text-anchor="middle" font-size="14.2" fill="#000" stroke="#000" stroke-width="0.25">20</text>
<line x1="282.5" y1="293.5" x2="288.1" y2="293.5" stroke="#4d4d4d" stroke-width="1.3"/>
<text transform="translate(275.9,293.1) rotate(-90) scale(0.95,1)" text-anchor="middle" font-size="14.2" fill="#000" stroke="#000" stroke-width="0.25">30</text>
<line x1="297.0" y1="499.4" x2="297.0" y2="504.7" stroke="#4d4d4d" stroke-width="1.3"/>
<text transform="translate(297.0,517.9) scale(0.94,1)" text-anchor="middle" font-size="14" fill="#000" stroke="#000" stroke-width="0.25">.4</text>
<line x1="360.5" y1="499.4" x2="360.5" y2="504.7" stroke="#4d4d4d" stroke-width="1.3"/>
<text transform="translate(360.5,517.9) scale(0.94,1)" text-anchor="middle" font-size="14" fill="#000" stroke="#000" stroke-width="0.25">.45</text>
<line x1="423.9" y1="499.4" x2="423.9" y2="504.7" stroke="#4d4d4d" stroke-width="1.3"/>
<text transform="translate(423.9,517.9) scale(0.94,1)" text-anchor="middle" font-size="14" fill="#000" stroke="#000" stroke-width="0.25">.5</text>
<line x1="487.4" y1="499.4" x2="487.4" y2="504.7" stroke="#4d4d4d" stroke-width="1.3"/>
<text transform="translate(487.4,517.9) scale(0.94,1)" text-anchor="middle" font-size="14" fill="#000" stroke="#000" stroke-width="0.25">.55</text>
<text x="392.2" y="531.5" text-anchor="middle" font-size="13.5" fill="#000" stroke="#000" stroke-width="0.2">Prob(breast cancer)</text>
<line x1="551.3" y1="490.9" x2="757.2" y2="490.9" stroke="#e5eef0" stroke-width="1.7"/>
<line x1="551.3" y1="441.6" x2="757.2" y2="441.6" stroke="#e5eef0" stroke-width="1.7"/>
<line x1="551.3" y1="392.4" x2="757.2" y2="392.4" stroke="#e5eef0" stroke-width="1.7"/>
<line x1="551.3" y1="343.1" x2="757.2" y2="343.1" stroke="#e5eef0" stroke-width="1.7"/>
<line x1="551.3" y1="293.9" x2="757.2" y2="293.9" stroke="#e5eef0" stroke-width="1.7"/>
<text transform="translate(551.1,297.6) scale(0.958,1)" font-size="15.6" font-weight="bold" fill="#131c48" stroke="#131c48" stroke-width="0.3">F: Full model</text>
<path d="M557.40,489.80 C558.45,489.57 561.67,489.22 563.70,488.40 C565.73,487.58 567.65,486.47 569.60,484.90 C571.55,483.33 573.62,481.28 575.40,479.00 C577.18,476.72 578.67,474.53 580.30,471.20 C581.93,467.87 583.38,463.92 585.20,459.00 C587.02,454.08 589.48,446.95 591.20,441.70 C592.92,436.45 594.10,432.15 595.50,427.50 C596.90,422.85 598.22,418.13 599.60,413.80 C600.98,409.47 602.42,405.47 603.80,401.50 C605.18,397.53 606.63,393.83 607.90,390.00 C609.17,386.17 610.23,382.45 611.40,378.50 C612.57,374.55 613.85,369.97 614.90,366.30 C615.95,362.63 616.77,359.75 617.70,356.50 C618.63,353.25 619.58,349.63 620.50,346.80 C621.42,343.97 622.27,341.72 623.20,339.50 C624.13,337.28 625.00,335.27 626.10,333.50 C627.20,331.73 628.40,330.30 629.80,328.90 C631.20,327.50 633.10,326.20 634.50,325.10 C635.90,324.00 637.12,323.53 638.20,322.30 C639.28,321.07 639.60,319.08 641.00,317.70 C642.40,316.32 645.05,314.00 646.60,314.00 C648.15,314.00 648.92,316.15 650.30,317.70 C651.68,319.25 653.50,320.82 654.90,323.30 C656.30,325.78 657.45,328.88 658.70,332.60 C659.95,336.32 661.17,341.10 662.40,345.60 C663.63,350.10 665.02,355.25 666.10,359.60 C667.18,363.95 667.97,367.67 668.90,371.70 C669.83,375.73 670.93,380.42 671.70,383.80 C672.47,387.18 672.82,389.02 673.50,392.00 C674.18,394.98 674.93,398.12 675.80,401.70 C676.67,405.28 677.57,409.75 678.70,413.50 C679.83,417.25 681.30,420.95 682.60,424.20 C683.90,427.45 685.20,429.90 686.50,433.00 C687.80,436.10 689.10,439.87 690.40,442.80 C691.70,445.73 692.83,448.00 694.30,450.60 C695.77,453.20 697.23,455.63 699.20,458.40 C701.17,461.17 703.82,464.42 706.10,467.20 C708.38,469.98 710.62,472.48 712.90,475.10 C715.18,477.72 717.52,480.78 719.80,482.90 C722.08,485.02 724.00,486.65 726.60,487.80 C729.20,488.95 731.80,489.47 735.40,489.80 C739.00,490.13 746.07,489.80 748.20,489.80" fill="none" stroke="#0e3a7a" stroke-width="1.45" stroke-linejoin="round" stroke-linecap="round"/>
<path d="M557.40,490.10 C559.43,490.05 566.27,490.35 569.60,489.80 C572.93,489.25 574.97,488.27 577.40,486.80 C579.83,485.33 582.08,483.28 584.20,481.00 C586.32,478.72 588.30,475.72 590.10,473.10 C591.90,470.48 593.37,468.40 595.00,465.30 C596.63,462.20 598.43,458.25 599.90,454.50 C601.37,450.75 602.50,447.03 603.80,442.80 C605.10,438.57 606.40,433.33 607.70,429.10 C609.00,424.87 610.30,421.32 611.60,417.40 C612.90,413.48 614.35,409.17 615.50,405.60 C616.65,402.03 617.67,399.02 618.50,396.00 C619.33,392.98 619.55,391.08 620.50,387.50 C621.45,383.92 622.97,378.83 624.20,374.50 C625.43,370.17 626.65,365.70 627.90,361.50 C629.15,357.30 630.45,352.88 631.70,349.30 C632.95,345.72 634.17,342.78 635.40,340.00 C636.63,337.22 637.70,334.45 639.10,332.60 C640.50,330.75 642.25,329.22 643.80,328.90 C645.35,328.58 647.17,329.77 648.40,330.70 C649.63,331.63 649.95,333.47 651.20,334.50 C652.45,335.53 654.18,336.20 655.90,336.90 C657.62,337.60 659.65,337.97 661.50,338.70 C663.35,339.43 665.15,340.30 667.00,341.30 C668.85,342.30 671.20,343.52 672.60,344.70 C674.00,345.88 674.47,346.70 675.40,348.40 C676.33,350.10 677.12,352.10 678.20,354.90 C679.28,357.70 680.65,361.93 681.90,365.20 C683.15,368.47 684.45,371.40 685.70,374.50 C686.95,377.60 688.35,380.72 689.40,383.80 C690.45,386.88 691.27,390.02 692.00,393.00 C692.73,395.98 692.92,398.12 693.80,401.70 C694.68,405.28 696.07,410.42 697.30,414.50 C698.53,418.58 699.90,422.30 701.20,426.20 C702.50,430.10 703.80,434.15 705.10,437.90 C706.40,441.65 707.70,445.28 709.00,448.70 C710.30,452.12 711.60,455.47 712.90,458.40 C714.20,461.33 715.33,463.85 716.80,466.30 C718.27,468.75 719.90,470.82 721.70,473.10 C723.50,475.38 725.47,478.03 727.60,480.00 C729.73,481.97 732.22,483.60 734.50,484.90 C736.78,486.20 739.02,486.98 741.30,487.80 C743.58,488.62 747.05,489.47 748.20,489.80" fill="none" stroke="#a8252b" stroke-width="1.45" stroke-linejoin="round" stroke-linecap="round"/>
<path d="M549.5,284.2 V499.4 H757.2" fill="none" stroke="#4d4d4d" stroke-width="1.5"/>
<line x1="543.9" y1="490.5" x2="549.5" y2="490.5" stroke="#4d4d4d" stroke-width="1.3"/>
<text transform="translate(537.3,490.1) rotate(-90) scale(0.95,1)" text-anchor="middle" font-size="14.2" fill="#000" stroke="#000" stroke-width="0.25">0</text>
<line x1="543.9" y1="441.2" x2="549.5" y2="441.2" stroke="#4d4d4d" stroke-width="1.3"/>
<text transform="translate(537.3,440.9) rotate(-90) scale(0.95,1)" text-anchor="middle" font-size="14.2" fill="#000" stroke="#000" stroke-width="0.25">1</text>
<line x1="543.9" y1="392.0" x2="549.5" y2="392.0" stroke="#4d4d4d" stroke-width="1.3"/>
<text transform="translate(537.3,391.6) rotate(-90) scale(0.95,1)" text-anchor="middle" font-size="14.2" fill="#000" stroke="#000" stroke-width="0.25">2</text>
<line x1="543.9" y1="342.8" x2="549.5" y2="342.8" stroke="#4d4d4d" stroke-width="1.3"/>
<text transform="translate(537.3,342.4) rotate(-90) scale(0.95,1)" text-anchor="middle" font-size="14.2" fill="#000" stroke="#000" stroke-width="0.25">3</text>
<line x1="543.9" y1="293.5" x2="549.5" y2="293.5" stroke="#4d4d4d" stroke-width="1.3"/>
<text transform="translate(537.3,293.1) rotate(-90) scale(0.95,1)" text-anchor="middle" font-size="14.2" fill="#000" stroke="#000" stroke-width="0.25">4</text>
<line x1="577.3" y1="499.4" x2="577.3" y2="504.7" stroke="#4d4d4d" stroke-width="1.3"/>
<text transform="translate(577.3,517.9) scale(0.94,1)" text-anchor="middle" font-size="14" fill="#000" stroke="#000" stroke-width="0.25">.2</text>
<line x1="632.1" y1="499.4" x2="632.1" y2="504.7" stroke="#4d4d4d" stroke-width="1.3"/>
<text transform="translate(632.1,517.9) scale(0.94,1)" text-anchor="middle" font-size="14" fill="#000" stroke="#000" stroke-width="0.25">.4</text>
<line x1="686.8" y1="499.4" x2="686.8" y2="504.7" stroke="#4d4d4d" stroke-width="1.3"/>
<text transform="translate(686.8,517.9) scale(0.94,1)" text-anchor="middle" font-size="14" fill="#000" stroke="#000" stroke-width="0.25">.6</text>
<line x1="741.6" y1="499.4" x2="741.6" y2="504.7" stroke="#4d4d4d" stroke-width="1.3"/>
<text transform="translate(741.6,517.9) scale(0.94,1)" text-anchor="middle" font-size="14" fill="#000" stroke="#000" stroke-width="0.25">.8</text>
<text x="653.4" y="531.5" text-anchor="middle" font-size="13.5" fill="#000" stroke="#000" stroke-width="0.2">Prob(breast cancer)</text>
</svg></body></html>
